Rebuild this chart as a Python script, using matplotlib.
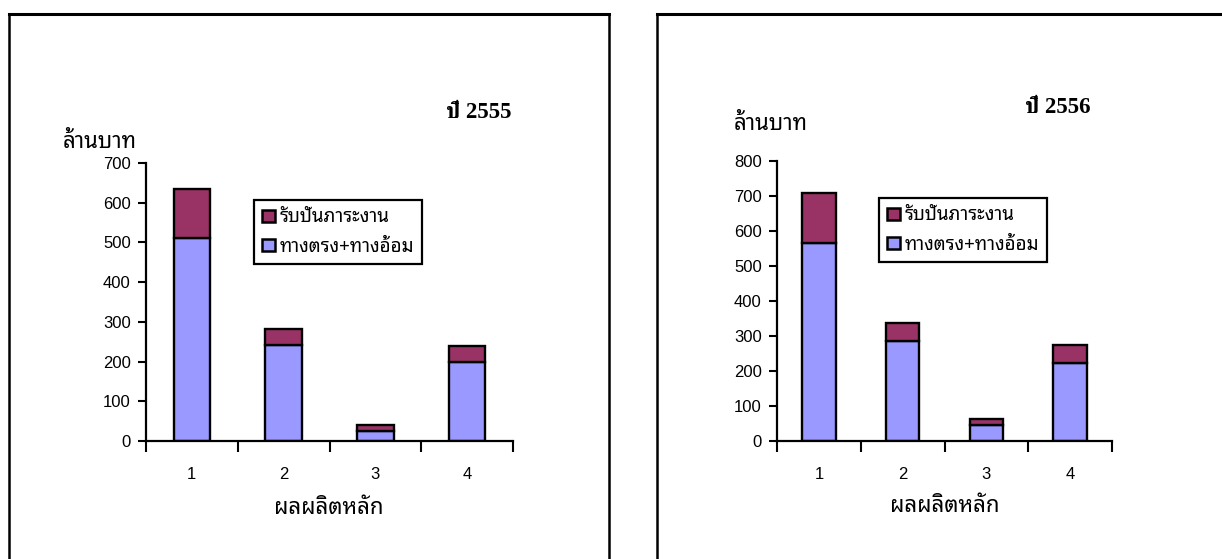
import matplotlib
matplotlib.use("Agg")
import matplotlib.pyplot as plt
from matplotlib import font_manager
from matplotlib.ft2font import FT2Font
from matplotlib.patches import Patch
from matplotlib.lines import Line2D

# ---------------- data ----------------
categories = ["1", "2", "3", "4"]
direct_2555 = [510, 241, 26, 199]     # ทางตรง+ทางอ้อม
shared_2555 = [124, 42, 14, 40]       # รับปันภาระงาน
direct_2556 = [566, 285, 45, 223]
shared_2556 = [143, 51, 17, 51]
yticks_2555 = [0, 100, 200, 300, 400, 500, 600, 700]
yticks_2556 = [0, 100, 200, 300, 400, 500, 600, 700, 800]
titles = ["ปี 2555", "ปี 2556"]
ylabel_txt = "ล้านบาท"
xlabel_txt = "ผลผลิตหลัก"
legend_labels = ["รับปันภาระงาน", "ทางตรง+ทางอ้อม"]

# ------------- find Thai capable fonts -------------
thai_fonts = []
seen = set()
for fe in font_manager.fontManager.ttflist:
    if fe.name in seen:
        continue
    try:
        cm = FT2Font(fe.fname).get_charmap()
        if 0x0E01 in cm and 0x0E32 in cm:
            thai_fonts.append(fe.name)
            seen.add(fe.name)
    except Exception:
        pass
order = ["Noto Sans Thai Looped", "IBM Plex Sans Thai Looped", "Noto Sans Thai",
         "Loma", "Garuda", "Sarabun"]
pref = [f for f in order if f in thai_fonts] + thai_fonts
thai = pref[0] if pref else "DejaVu Sans"
serif_pref = [f for f in ["FreeSerif", "Noto Serif Thai", "Norasi"] if f in thai_fonts]
serif_thai = serif_pref[0] if serif_pref else thai

SERIF = ["Liberation Serif", serif_thai, "DejaVu Sans"]
THAI = [thai, "Liberation Sans", "DejaVu Sans"]
plt.rcParams["font.family"] = ["Liberation Sans", thai, "DejaVu Sans"]

BLUE = "#9999FF"
MAROON = "#993366"

W, H = 1222, 559
fig = plt.figure(figsize=(W / 100, H / 100), dpi=100)
fig.patch.set_facecolor("white")

def px(x0, y_top, x1, y_bot):
    return [x0 / W, 1 - y_bot / H, (x1 - x0) / W, (y_bot - y_top) / H]

def fline(xs, ys, lw):
    fig.add_artist(Line2D([v / W for v in xs], [1 - v / H for v in ys], color="black",
                          lw=lw, transform=fig.transFigure, solid_capstyle="projecting"))

# outer boxes
fline([9, 9], [14, H + 5], 1.8)
fline([9, 609], [14, 14], 2.2)
fline([609, 609], [14, H + 5], 1.8)
fline([657, 657], [14, H + 5], 1.8)
fline([657, W + 5], [14, 14], 2.2)

specs = [
    dict(rect=px(146, 163, 513, 441), direct=direct_2555, shared=shared_2555,
         yt=yticks_2555, title=titles[0], title_xy=(479, 112), ylab_xy=(100, 143),
         xlab_xy=(329, 509), leg=(254, 200)),
    dict(rect=px(777, 161, 1112, 441), direct=direct_2556, shared=shared_2556,
         yt=yticks_2556, title=titles[1], title_xy=(1058, 108), ylab_xy=(771, 125),
         xlab_xy=(945, 507), leg=(879, 198)),
]

for s in specs:
    ax = fig.add_axes(s["rect"])
    x = list(range(1, len(categories) + 1))
    ax.bar(x, s["direct"], width=0.4, color=BLUE, edgecolor="black", linewidth=1.7, zorder=2)
    ax.bar(x, s["shared"], width=0.4, bottom=s["direct"], color=MAROON, edgecolor="black",
           linewidth=1.7, zorder=2)
    ax.set_xlim(0.5, len(categories) + 0.5)
    ax.set_ylim(s["yt"][0], s["yt"][-1])
    ax.set_yticks(s["yt"])
    ax.set_yticklabels([str(v) for v in s["yt"]], fontsize=12)
    ax.set_xticks([i + 0.5 for i in range(len(categories) + 1)])
    ax.set_xticklabels([])
    ax.set_xticks(x, minor=True)
    ax.set_xticklabels(categories, minor=True, fontsize=12)
    ax.tick_params(axis="x", which="major", direction="out", length=8, width=1.5)
    ax.tick_params(axis="x", which="minor", length=0, pad=19)
    ax.tick_params(axis="y", direction="out", length=6, width=1.5, pad=5)
    for sp in ["top", "right"]:
        ax.spines[sp].set_visible(False)
    for sp in ["left", "bottom"]:
        ax.spines[sp].set_linewidth(1.6)
        ax.spines[sp].set_zorder(3)
    ax.set_facecolor("none")

    tx, ty = s["title_xy"]
    fig.text(tx / W, 1 - ty / H, s["title"], ha="center", va="center",
             fontsize=16.5, fontweight="bold", family=SERIF)
    lx, ly = s["ylab_xy"]
    fig.text(lx / W, 1 - ly / H, ylabel_txt, ha="center", va="center", fontsize=16, family=THAI)
    xx, xy = s["xlab_xy"]
    fig.text(xx / W, 1 - xy / H, xlabel_txt, ha="center", va="center", fontsize=16, family=THAI)

    x0, y0 = s["leg"]
    handles = [Patch(facecolor=MAROON, edgecolor="black", linewidth=1.8),
               Patch(facecolor=BLUE, edgecolor="black", linewidth=1.8)]
    leg = fig.legend(handles, legend_labels, loc="upper left",
                     bbox_to_anchor=(x0 / W, 1 - y0 / H), bbox_transform=fig.transFigure,
                     prop=dict(family=THAI, size=13.5), frameon=True, fancybox=False,
                     framealpha=1, edgecolor="black", handlelength=0.65, handleheight=0.65,
                     handletextpad=0.25, borderpad=0.45, labelspacing=0.6, borderaxespad=0)
    leg.get_frame().set_linewidth(1.6)

fig.savefig("out.png", dpi=100, facecolor="white")
